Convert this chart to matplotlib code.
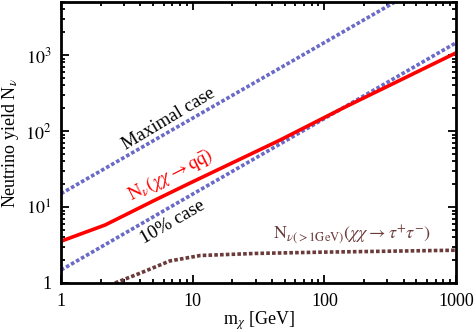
import matplotlib
matplotlib.use("Agg")
import matplotlib.pyplot as plt
from matplotlib.ticker import LogLocator, NullFormatter, FixedLocator, FixedFormatter

plt.rcParams["font.family"] = "serif"
plt.rcParams["font.serif"] = ["Liberation Serif", "DejaVu Serif"]
plt.rcParams["mathtext.fontset"] = "stix"

# values
mass_lines = [1, 10, 100, 1000]
maximal = [15, 148, 1460, 14500]
ten_pct = [1.48, 14.8, 146, 1450]

mass_qq = [1, 2.16, 5.2, 10, 46, 138, 300, 1000]
yield_qq = [3.55, 5.8, 12.4, 21.5, 76, 200, 386, 1070]

mass_tau = [2.57, 4, 6.7, 11.4, 30, 100, 300, 1000]
yield_tau = [1.0, 1.35, 1.95, 2.3, 2.45, 2.55, 2.62, 2.7]

xticks = [1, 10, 100, 1000]
xlabels = ["1", "10", "100", "1000"]
yticks = [1, 10, 100, 1000]
ylabels = ["1", r"$10^1$", r"$10^2$", r"$10^3$"]

blue = "#6a6ac8"
brown = "#6b3a3a"

fig = plt.figure(figsize=(4.77, 3.32), dpi=100)
ax = fig.add_axes([0.128, 0.1476, 0.828, 0.8464])

ax.plot(mass_lines, maximal, color=blue, linestyle=(0, (1, 0.6)), lw=2.6)
ax.plot(mass_lines, ten_pct, color=blue, linestyle=(0, (1, 0.6)), lw=2.6)
ax.plot(mass_qq, yield_qq, color="red", lw=2.6)
ax.plot(mass_tau, yield_tau, color=brown, linestyle=(0, (1, 0.6)), lw=2.6)

ax.set_xscale("log")
ax.set_yscale("log")
ax.set_xlim(1, 1000)
ax.set_ylim(1, 5000)

ax.xaxis.set_major_locator(FixedLocator(xticks))
ax.xaxis.set_major_formatter(FixedFormatter(xlabels))
ax.yaxis.set_major_locator(FixedLocator(yticks))
ax.yaxis.set_major_formatter(FixedFormatter(ylabels))
ax.xaxis.set_minor_locator(LogLocator(base=10, subs=range(2, 10)))
ax.yaxis.set_minor_locator(LogLocator(base=10, subs=range(2, 10)))
ax.xaxis.set_minor_formatter(NullFormatter())
ax.yaxis.set_minor_formatter(NullFormatter())

ax.tick_params(which="both", direction="in", top=True, right=True, width=1.3, labelsize=13)
ax.tick_params(which="major", length=6, pad=7)
ax.tick_params(which="minor", length=3)
for s in ax.spines.values():
    s.set_linewidth(2)

ax.set_xlabel(r"m$_\chi$ [GeV]", fontsize=13, labelpad=0)
ax.set_ylabel(r"Neutrino yield N$_\nu$", fontsize=13, labelpad=3)

ax.text(6.6, 142, "Maximal case", rotation=31, fontsize=13.5,
        ha="center", va="center", rotation_mode="anchor")
ax.text(6.8, 26.5, r"$\mathrm{N}_\nu(\chi\chi \rightarrow \mathrm{q}\bar{\mathrm{q}})$",
        rotation=27, fontsize=13.5, color="red", ha="center", va="center",
        rotation_mode="anchor")
ax.text(7.1, 6.3, "10% case", rotation=30, fontsize=13.5,
        ha="center", va="center", rotation_mode="anchor")
ax.text(40.8, 4.3, r"$\mathrm{N}_{\nu(>1\mathrm{GeV})}(\chi\chi \rightarrow \tau^{+}\tau^{-})$",
        fontsize=13, color=brown, ha="left", va="center")

fig.savefig("out.png", dpi=100)
